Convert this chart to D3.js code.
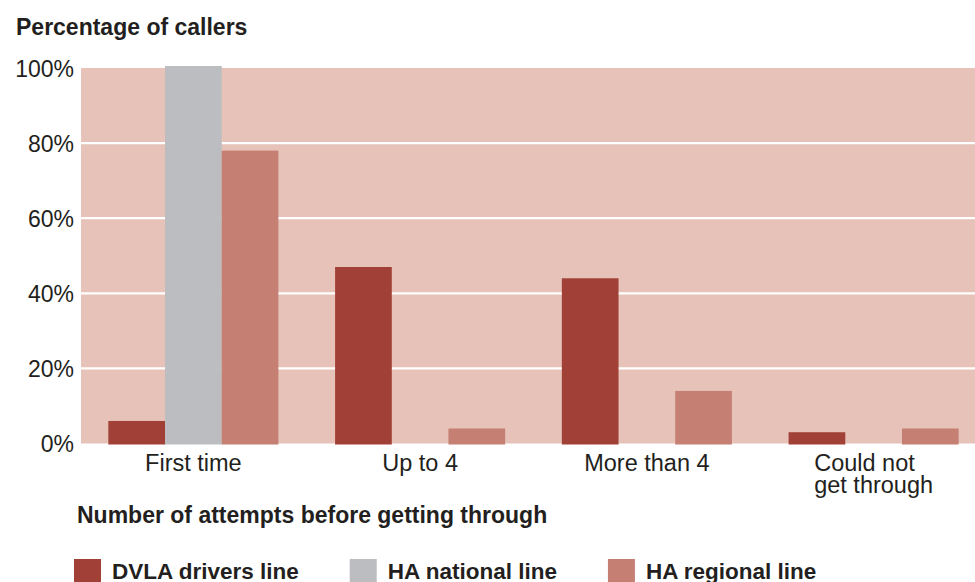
<!DOCTYPE html>
<html>
<head>
<meta charset="utf-8">
<script src="https://cdn.jsdelivr.net/npm/d3@7"></script>
<style>
  html, body { margin: 0; padding: 0; background: #fff; }
  svg { display: block; }
  text { font-family: "Liberation Sans", Arial, Helvetica, sans-serif; fill: #231f20; }
</style>
</head>
<body>
<svg id="chart" width="975" height="582"></svg>
<script>
// Attempts needed before a caller got through, by helpline
const categories = ["First time", "Up to 4", "More than 4", "Could not\nget through"];
const seriesNames = ["DVLA drivers line", "HA national line", "HA regional line"];
const dvla = [6, 47, 44, 3];
const haNational = [100, 0, 0, 0];
const haRegional = [78, 4, 14, 4];
const yTicks = [0, 20, 40, 60, 80, 100];
const colors = ["#a14036", "#bcbdc0", "#c57f73"];

const seriesValues = [dvla, haNational, haRegional];
const rows = categories.map((c, i) => ({
  category: c,
  values: seriesNames.map((s, j) => ({ series: s, value: seriesValues[j][i] }))
}));

const svg = d3.select("#chart");
const plot = { left: 81, right: 975, top: 68, bottom: 443.5 };

const y = d3.scaleLinear().domain([0, 100]).range([plot.bottom, plot.top]);
const x0 = d3.scaleBand().domain(categories).range([80, 987])
  .paddingInner(0.25).paddingOuter(0.125);
const x1 = d3.scaleBand().domain(seriesNames).range([0, x0.bandwidth()]);
const color = d3.scaleOrdinal().domain(seriesNames).range(colors);

// Panel background
svg.append("rect")
  .attr("x", plot.left).attr("y", plot.top)
  .attr("width", plot.right - plot.left).attr("height", plot.bottom - plot.top)
  .attr("fill", "#e6c2b9");

// Horizontal grid lines
svg.append("g")
  .selectAll("line")
  .data(yTicks.filter(t => t > 0 && t < 100))
  .join("line")
  .attr("x1", plot.left).attr("x2", plot.right)
  .attr("y1", d => y(d)).attr("y2", d => y(d))
  .attr("stroke", "#fff").attr("stroke-width", 2.2);

// Bars (the full-height bar pokes slightly above the panel top)
svg.append("g")
  .selectAll("g")
  .data(rows)
  .join("g")
  .attr("transform", d => `translate(${x0(d.category)},0)`)
  .selectAll("rect")
  .data(d => d.values.filter(v => v.value > 0))
  .join("rect")
  .attr("x", d => x1(d.series))
  .attr("width", x1.bandwidth())
  .attr("y", d => y(d.value) - (d.value >= 100 ? 2 : 0))
  .attr("height", d => y(0) - y(d.value) + 1 + (d.value >= 100 ? 2 : 0))
  .attr("fill", d => color(d.series));

// Y axis labels
const yAxis = svg.append("g")
  .attr("transform", `translate(${plot.left},0)`)
  .call(d3.axisLeft(y).tickValues(yTicks).tickFormat(d => d + "%").tickSize(0).tickPadding(7));
yAxis.select(".domain").remove();
yAxis.selectAll("text")
  .attr("font-size", 23)
  .attr("font-family", null)
  .attr("fill", "#231f20")
  .attr("dy", "0.35em");

// X axis category labels (multi-line, left aligned block centred on group)
const xLabels = svg.append("g");
categories.forEach(c => {
  const lines = c.split("\n");
  const t = xLabels.append("text").attr("font-size", 23.5).attr("text-anchor", "start");
  lines.forEach((ln, i) => {
    t.append("tspan").attr("x", 0).attr("y", 471 + i * 22).text(ln);
  });
  let maxW = 0;
  t.selectAll("tspan").each(function () { maxW = Math.max(maxW, this.getComputedTextLength()); });
  const cx = x0(c) + x0.bandwidth() / 2;
  t.attr("transform", `translate(${cx - maxW / 2},0)`);
});

// Titles
svg.append("text")
  .attr("x", 16).attr("y", 35)
  .attr("font-size", 23).attr("font-weight", "bold")
  .text("Percentage of callers");

svg.append("text")
  .attr("x", 77).attr("y", 523)
  .attr("font-size", 23).attr("font-weight", "bold")
  .text("Number of attempts before getting through");

// Legend
const legend = svg.append("g");
let lx = 74;
seriesNames.forEach(s => {
  legend.append("rect")
    .attr("x", lx).attr("y", 559).attr("width", 27).attr("height", 27)
    .attr("fill", color(s));
  const t = legend.append("text")
    .attr("x", lx + 38).attr("y", 579)
    .attr("font-size", 22.5).attr("font-weight", "bold")
    .text(s);
  lx = lx + 38 + t.node().getComputedTextLength() + 51;
});
</script>
</body>
</html>
